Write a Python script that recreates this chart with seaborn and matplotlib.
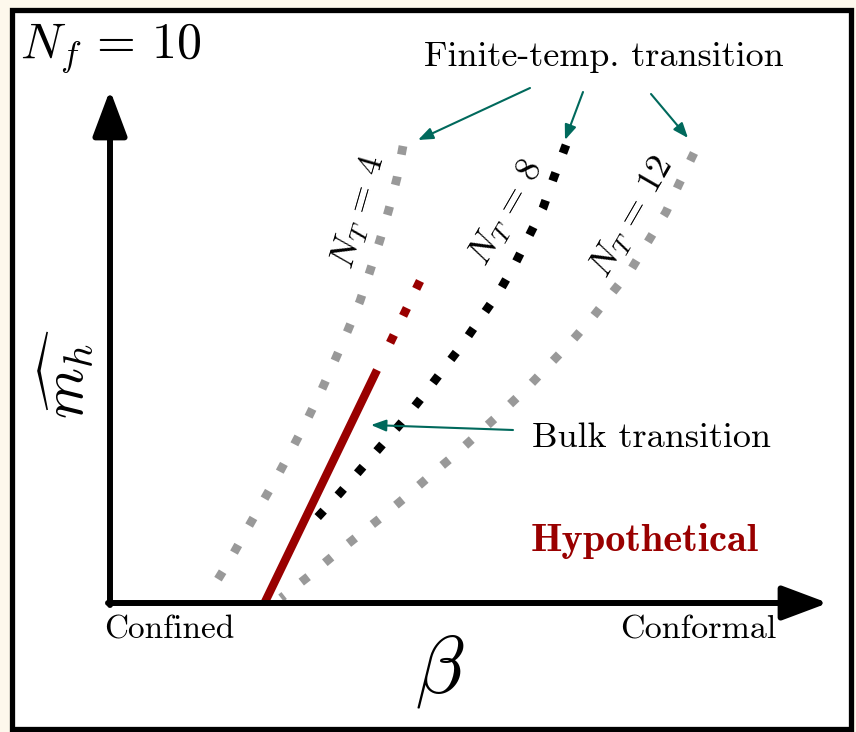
import matplotlib
matplotlib.use("Agg")
import matplotlib.pyplot as plt
import seaborn as sns
import pandas as pd
from matplotlib.patches import Rectangle

sns.set_theme(style="white")
plt.rcParams["mathtext.fontset"] = "cm"
plt.rcParams["font.family"] = ["cmr10", "DejaVu Serif"]
plt.rcParams["axes.formatter.use_mathtext"] = True
plt.rcParams["text.color"] = "black"

# Schematic curves: (beta, m_h) in canvas units (y grows downward)
nt4_beta = [403, 397, 389, 380, 370, 360, 348, 335, 322, 308, 293, 278, 262, 246, 231, 212]
nt4_mh = [146, 178, 209, 240, 271, 301, 330, 360, 389, 418, 447, 475, 503, 531, 558, 589]
nt8_beta = [566, 554, 543, 529, 515, 499, 480, 462, 442, 423, 403, 382, 361, 340, 315]
nt8_mh = [145, 177, 208, 236, 264, 292, 319, 345, 371, 396, 421, 445, 469, 493, 520]
nt12_beta = [694, 679, 666, 649, 632, 612, 592, 571, 549, 527, 504, 480, 457, 432, 408,
             383, 359, 334, 309, 281]
nt12_mh = [153, 184, 212, 240, 268, 293, 318, 342, 365, 388, 410, 432, 453, 474, 495,
           516, 535, 555, 576, 598]
bulk_beta = [264, 377]
bulk_mh = [604, 370]
bulk_ext_beta = [420, 404, 390, 382]
bulk_ext_mh = [281, 314, 343, 360]

GRAY = "#999999"
RED = "#990000"
TEAL = "#00695c"
CREAM = "#fdf8ec"

fig = plt.figure(figsize=(8.56, 7.32), dpi=100, facecolor=CREAM)
ax = fig.add_axes([0, 0, 1, 1])
ax.set_xlim(0, 856)
ax.set_ylim(732, 0)
ax.axis("off")

ax.add_patch(Rectangle((12, 10), 839, 719, facecolor="white", edgecolor="black",
                       lw=3.8, zorder=0))

def dotted(bx, my, color, period_px):
    df = pd.DataFrame({"beta": bx, "mh": my})
    lw = 6.3
    period_pt = period_px * 0.72
    gap = period_pt / lw - 1
    sns.lineplot(data=df, x="beta", y="mh", ax=ax, color=color, lw=lw,
                 linestyle=(0, (1, gap)), dash_capstyle="butt", sort=False,
                 estimator=None, zorder=3)

dotted(nt4_beta, nt4_mh, GRAY, 31)
dotted(nt8_beta, nt8_mh, "black", 29.5)
dotted(nt12_beta, nt12_mh, GRAY, 30.5)
dotted(bulk_ext_beta, bulk_ext_mh, RED, 30)
sns.lineplot(data=pd.DataFrame({"beta": bulk_beta, "mh": bulk_mh}), x="beta", y="mh",
             ax=ax, color=RED, lw=6.0, sort=False, estimator=None, zorder=4,
             solid_capstyle="butt")

# axes arrows
ax_props = dict(arrowstyle="-|>,head_length=28,head_width=10.5", lw=4.3, color="black",
                mutation_scale=1, shrinkA=0, shrinkB=0)
ax.annotate("", xy=(110, 90), xytext=(110, 605), arrowprops=ax_props, zorder=5)
ax.annotate("", xy=(828, 603), xytext=(108, 603), arrowprops=ax_props, zorder=5)

# teal arrows
tp = dict(arrowstyle="-|>,head_length=9,head_width=3.5", lw=1.5, color=TEAL,
          mutation_scale=1, shrinkA=0, shrinkB=0)
ax.annotate("", xy=(418, 140), xytext=(530, 88), arrowprops=tp)
ax.annotate("", xy=(565, 140), xytext=(583, 92), arrowprops=tp)
ax.annotate("", xy=(688, 138), xytext=(651, 94), arrowprops=tp)
ax.annotate("", xy=(371, 425), xytext=(513, 430), arrowprops=tp)

# texts
ax.text(20, 48, r"$N_f\,=\,10$", fontsize=36, ha="left", va="center", color="black")
ax.text(604, 57, "Finite-temp. transition", fontsize=26, ha="center", va="center",
        color="black")
ax.text(651, 438, "Bulk transition", fontsize=26, ha="center", va="center", color="black")
ax.text(645, 541, "Hypothetical", fontsize=29, ha="center", va="center",
        color=RED, family=["cmb10", "DejaVu Serif"])
ax.text(169, 630, "Confined", fontsize=24, ha="center", va="center", color="black")
ax.text(698, 630, "Conformal", fontsize=24.5, ha="center", va="center", color="black")
ax.text(440, 672, r"$\beta$", fontsize=58, ha="center", va="center", color="black")
ax.text(66, 374, r"$\widehat{m_h}$", fontsize=42, ha="center", va="center", rotation=90,
        color="black")

ax.text(359, 212, r"$N_T\,=\,4$", fontsize=26, ha="center", va="center", rotation=74,
        rotation_mode="anchor", color="black")
ax.text(507, 213, r"$N_T\,=\,8$", fontsize=26, ha="center", va="center", rotation=60,
        rotation_mode="anchor", color="black")
ax.text(632, 217, r"$N_T\,=\,12$", fontsize=26, ha="center", va="center", rotation=60,
        rotation_mode="anchor", color="black")

fig.savefig("out.png", dpi=100, facecolor=CREAM)
